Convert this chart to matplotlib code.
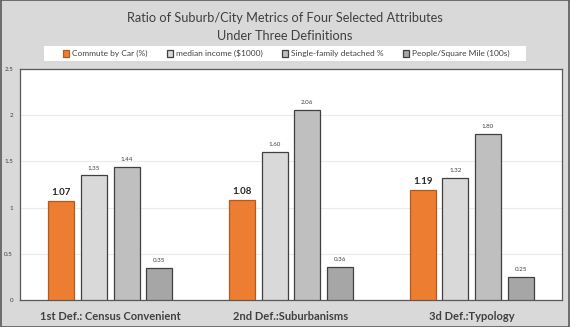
import matplotlib.pyplot as plt
import matplotlib.patches as mpatches
import numpy as np

FONT = "Lato"
BG = "#d9d9d9"
EDGE = "#404040"

categories = ["1st Def.: Census Convenient", "2nd Def.:Suburbanisms", "3d Def.:Typology"]
series_names = [
    "Commute by Car (%)",
    "median income ($1000)",
    "Single-family detached %",
    "People/Square Mile (100s)",
]
commute = [1.07, 1.08, 1.19]
income = [1.35, 1.60, 1.32]
single_family = [1.44, 2.06, 1.80]
density = [0.35, 0.36, 0.25]
yticks = [0, 0.5, 1, 1.5, 2, 2.5]

series = [commute, income, single_family, density]
colors = ["#ed7d31", "#d9d9d9", "#bfbfbf", "#a6a6a6"]
edges = ["#b45a1e", EDGE, EDGE, EDGE]

plt.rcParams["font.family"] = [FONT, "DejaVu Sans"]

fig = plt.figure(figsize=(5.7, 3.27), dpi=100, facecolor=BG)
ax = fig.add_axes([0.035, 0.083, 0.951, 0.706])
ax.set_facecolor("white")

x = np.arange(len(categories))
width = 0.144
step = 0.181
for i, (vals, col, ec) in enumerate(zip(series, colors, edges)):
    pos = x + (i - 1.5) * step
    bars = ax.bar(pos, vals, width, color=col, edgecolor=ec, linewidth=0.9,
                  label=series_names[i], zorder=3)
    for b, v in zip(bars, vals):
        if i == 0:
            ax.text(b.get_x() + b.get_width() / 2, v + 0.04, f"{v:.2f}",
                    ha="center", va="bottom", fontsize=7, fontweight="bold",
                    color="#262626")
        else:
            ax.text(b.get_x() + b.get_width() / 2, v + 0.05, f"{v:.2f}",
                    ha="center", va="bottom", fontsize=4.5, color="#404040")

ax.set_xlim(-0.5, 2.5)
ax.set_ylim(0, 2.5)
ax.set_yticks(yticks)
ax.set_yticklabels([f"{t:g}" for t in yticks], fontsize=4.5, color="#404040")
ax.yaxis.grid(True, color="#ebebeb", linewidth=0.8, zorder=0)
ax.tick_params(axis="y", length=0, pad=5)
ax.set_xticks(x)
ax.set_xticklabels(categories, fontsize=8, fontweight="bold", color="#404040")
ax.tick_params(axis="x", length=0, pad=8)
for s in ax.spines.values():
    s.set_color("#595959")
    s.set_linewidth(0.9)

fig.text(0.5, 0.945, "Ratio of Suburb/City Metrics of Four Selected Attributes",
         ha="center", va="center", fontsize=9.2, color="#404040")
fig.text(0.5, 0.89, "Under Three Definitions",
         ha="center", va="center", fontsize=9.2, color="#404040")

# legend strip
fig.add_artist(mpatches.Rectangle((0.077, 0.813), 0.846, 0.046, transform=fig.transFigure,
                                  facecolor="white", edgecolor="none"))
leg = fig.legend(loc="center", bbox_to_anchor=(0.502, 0.836), ncol=4, frameon=False,
                 fontsize=6, handlelength=0.8, handleheight=0.8, columnspacing=2.3,
                 handletextpad=0.3, labelcolor="#404040")

fig.add_artist(mpatches.Rectangle((0.001, 0.001), 0.998, 0.998, transform=fig.transFigure,
                                  fill=False, edgecolor="#595959", linewidth=1.2))

fig.savefig("out.png", dpi=100, facecolor=BG)
